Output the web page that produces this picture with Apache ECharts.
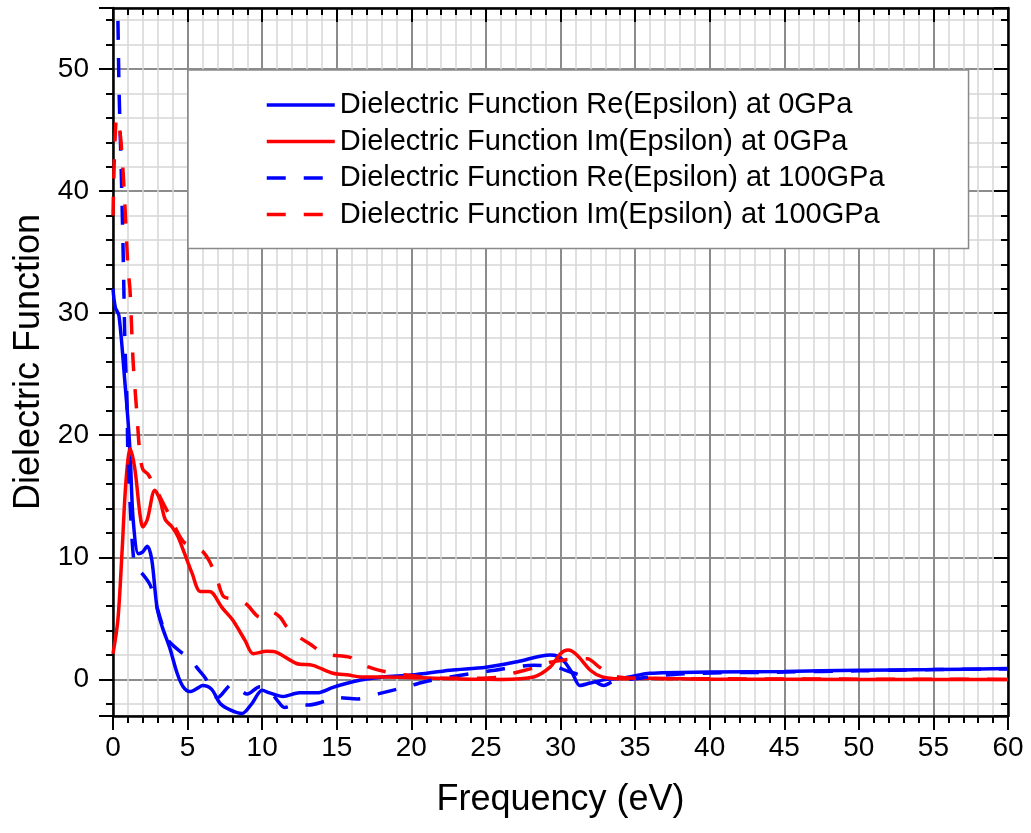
<!DOCTYPE html>
<html>
<head>
<meta charset="utf-8">
<script src="https://cdn.jsdelivr.net/npm/echarts@6/dist/echarts.min.js"></script>
<style>html,body{margin:0;padding:0;background:#fff}#c{width:1031px;height:833px}</style>
</head>
<body>
<div id="c"></div>
<script>
// ---- data ----
const seriesNames = [
  'Dielectric Function Re(Epsilon) at 0GPa',
  'Dielectric Function Im(Epsilon) at 0GPa',
  'Dielectric Function Re(Epsilon) at 100GPa',
  'Dielectric Function Im(Epsilon) at 100GPa'
];
const xTickValues = [0, 5, 10, 15, 20, 25, 30, 35, 40, 45, 50, 55, 60];
const yTickValues = [0, 10, 20, 30, 40, 50];

const re0X = [0, 0.15, 0.4, 0.8, 1.0, 1.15, 1.35, 1.7, 1.95, 2.3, 2.6, 2.95, 3.3, 3.8, 4.3, 4.7, 5.15, 5.7, 6.0, 6.6, 7.2, 7.85, 8.65, 9.3, 10.0, 10.5, 11.4, 12.5, 13.7, 14.75, 15.75, 16.6, 18.1, 20.0, 22.6, 25.0, 27.1, 29.3, 29.8, 30.3, 30.8, 31.3, 32.0, 33.1, 34.2, 36.0, 40, 45, 50, 55, 60];
const re0Y = [32.0, 30.5, 29.8, 24.3, 21.3, 18.5, 13.1, 10.3, 10.4, 10.9, 9.8, 5.9, 4.3, 2.6, 0.5, -0.6, -1.0, -0.7, -0.5, -0.8, -2.0, -2.5, -2.8, -2.0, -0.9, -1.1, -1.4, -1.1, -1.1, -0.65, -0.3, -0.05, 0.2, 0.35, 0.75, 1.0, 1.45, 2.0, 1.9, 1.4, 0.5, -0.5, -0.3, 0.0, 0.1, 0.5, 0.6, 0.65, 0.75, 0.8, 0.9];

const im0X = [0, 0.33, 0.6, 0.8, 1.0, 1.15, 1.47, 1.8, 2.0, 2.3, 2.8, 3.15, 3.5, 3.95, 4.35, 4.8, 5.3, 5.85, 6.4, 6.7, 7.3, 8.0, 8.85, 9.4, 10.3, 11.0, 12.3, 13.4, 14.75, 15.8, 16.6, 19.2, 21.5, 24, 26, 28.2, 29.3, 30.0, 30.5, 31.1, 32.0, 32.8, 34.0, 36, 40, 50, 60];
const im0Y = [2.1, 4.9, 10.3, 15, 18, 18.9, 17.2, 13.6, 12.5, 13.1, 15.5, 14.7, 13.1, 12.5, 11.7, 10.3, 8.7, 7.2, 7.2, 7.05, 5.9, 4.9, 3.2, 2.1, 2.3, 2.2, 1.3, 1.15, 0.5, 0.35, 0.2, 0.18, 0.1, 0.02, 0.0, 0.2, 1.0, 2.1, 2.4, 2.0, 0.75, 0.2, 0.05, 0.1, 0.02, 0.0, 0.0];

const re100X = [0.22, 0.33, 0.4, 0.5, 0.6, 0.7, 0.8, 0.93, 1.0, 1.2, 1.35, 1.5, 2.0, 2.5, 2.95, 3.35, 3.7, 4.6, 5.15, 5.6, 6.2, 7.0, 8.0, 9.0, 9.85, 10.4, 11.0, 11.5, 12.5, 13.1, 14.2, 15.0, 16.4, 17.9, 19.7, 20.9, 22.6, 25.3, 28.2, 29.8, 30.3, 31.3, 32.2, 32.9, 33.5, 35.3, 38, 45, 50, 55, 60];
const re100Y = [60, 54, 48.6, 44, 39.3, 33.8, 27.5, 23, 18.5, 13.1, 10.3, 9.2, 8.6, 7.7, 5.9, 4.3, 3.2, 2.2, 1.8, 1.0, 0.1, -1.5, -0.4, -1.2, -0.6, -0.75, -1.7, -2.3, -2.0, -2.1, -1.8, -1.5, -1.6, -1.15, -0.6, -0.2, 0.2, 0.7, 1.15, 1.0, 0.75, 0.35, -0.1, -0.5, -0.2, 0.1, 0.45, 0.6, 0.7, 0.8, 0.85];

const im100X = [0, 0.1, 0.25, 0.45, 0.6, 0.75, 0.87, 1.0, 1.14, 1.35, 1.6, 1.8, 2.0, 2.35, 3.0, 3.8, 4.7, 5.5, 6.0, 6.5, 7.0, 7.4, 8.0, 8.5, 9.0, 9.85, 10.5, 11.2, 11.65, 12.5, 13.2, 14.2, 15.9, 16.3, 17.4, 18.4, 19.7, 21.9, 24, 26, 26.8, 28.4, 29.3, 30.3, 31.1, 31.8, 32.6, 33.5, 35, 40, 50, 60];
const im100Y = [38, 43, 46, 45, 43, 40, 37, 33.8, 31.9, 26, 21.8, 18.5, 17.2, 16.8, 15.3, 13.4, 11.3, 10.8, 10.5, 9.6, 8.1, 6.8, 6.6, 6.5, 6.1, 5.1, 5.6, 5.1, 4.3, 3.45, 2.9, 2.1, 1.8, 1.4, 0.9, 0.6, 0.35, 0.1, 0.1, 0.2, 0.5, 1.0, 1.4, 1.6, 1.7, 1.7, 1.0, 0.3, 0.1, 0.05, 0.02, 0.0];

// ---- build chart ----
const pairs = (xs, ys) => xs.map((x, i) => [x, ys[i]]);
const FONT = 'Liberation Sans, Arial, sans-serif';
const BLUE = '#0000ff', RED = '#ff0000';
const DASH = [19, 18];
const LW = 3.5;

const chart = echarts.init(document.getElementById('c'), null, { renderer: 'canvas' });

const baseTick = { show: true, length: 14, lineStyle: { color: '#000', width: 2 } };
const baseMinor = { show: true, splitNumber: 5, length: 7, lineStyle: { color: '#000', width: 2 } };

chart.setOption({
  animation: false,
  backgroundColor: '#fff',
  grid: { left: 113, top: 8, right: 23, bottom: 117, containLabel: false },
  legend: {
    data: seriesNames,
    orient: 'vertical',
    left: 188, top: 70,
    padding: [20, 84, 19, 77],
    itemWidth: 68, itemHeight: 2, itemGap: 6.5,
    backgroundColor: '#fff',
    borderColor: '#8a8a8a', borderWidth: 1.5,
    selectedMode: false,
    itemStyle: { opacity: 0 },
    lineStyle: { width: 3.5 },
    textStyle: { fontFamily: FONT, fontSize: 29, color: '#000', lineHeight: 30 }
  },
  xAxis: [{
    type: 'value', min: 0, max: 60, interval: 5,
    name: 'Frequency (eV)', nameLocation: 'middle', nameGap: 66,
    nameTextStyle: { fontFamily: FONT, fontSize: 36, color: '#000' },
    axisLine: { show: true, onZero: false, lineStyle: { color: '#000', width: 2.5 } },
    axisTick: baseTick,
    minorTick: baseMinor,
    axisLabel: { fontFamily: FONT, fontSize: 28, color: '#000', margin: 18,
      formatter: v => xTickValues.includes(v) ? String(v) : '' },
    splitLine: { show: true, lineStyle: { color: '#8c8c8c', width: 2 } },
    minorSplitLine: { show: true, lineStyle: { color: '#d6d6d6', width: 1.5 } }
  }, {
    type: 'value', min: 0, max: 60, interval: 5, position: 'top',
    axisLine: { show: true, onZero: false, lineStyle: { color: '#000', width: 2.5 } },
    axisTick: Object.assign({}, baseTick, { inside: true }),
    minorTick: Object.assign({}, baseMinor, { inside: true }),
    axisLabel: { show: false },
    splitLine: { show: false }
  }],
  yAxis: [{
    type: 'value', min: -3, max: 55, minInterval: 10, maxInterval: 10,
    name: 'Dielectric Function', nameLocation: 'middle', nameGap: 62,
    nameTextStyle: { fontFamily: FONT, fontSize: 36, color: '#000' },
    axisLine: { show: true, onZero: false, lineStyle: { color: '#000', width: 2.5 } },
    axisTick: baseTick,
    minorTick: baseMinor,
    axisLabel: { fontFamily: FONT, fontSize: 28, color: '#000', margin: 24,
      showMinLabel: false, showMaxLabel: false,
      formatter: v => yTickValues.includes(v) ? String(v) : '' },
    splitLine: { show: true, lineStyle: { color: '#8c8c8c', width: 2 } },
    minorSplitLine: { show: true, lineStyle: { color: '#d6d6d6', width: 1.5 } }
  }, {
    type: 'value', min: -3, max: 55, minInterval: 10, maxInterval: 10, position: 'right',
    axisLine: { show: true, onZero: false, lineStyle: { color: '#000', width: 2.5 } },
    axisTick: Object.assign({}, baseTick, { inside: true }),
    minorTick: Object.assign({}, baseMinor, { inside: true }),
    axisLabel: { show: false },
    splitLine: { show: false }
  }],
  series: [
    { name: seriesNames[0], type: 'line', data: pairs(re0X, re0Y), smooth: 0.3, symbol: 'none', showSymbol: false,
      lineStyle: { color: BLUE, width: LW, type: 'solid' }, itemStyle: { color: BLUE } },
    { name: seriesNames[1], type: 'line', data: pairs(im0X, im0Y), smooth: 0.3, symbol: 'none', showSymbol: false,
      lineStyle: { color: RED, width: LW, type: 'solid' }, itemStyle: { color: RED } },
    { name: seriesNames[2], type: 'line', data: pairs(re100X, re100Y), smooth: 0.3, symbol: 'none', showSymbol: false,
      lineStyle: { color: BLUE, width: LW, type: DASH }, itemStyle: { color: BLUE } },
    { name: seriesNames[3], type: 'line', data: pairs(im100X, im100Y), smooth: 0.3, symbol: 'none', showSymbol: false,
      lineStyle: { color: RED, width: LW, type: DASH }, itemStyle: { color: RED } }
  ]
});
</script>
</body>
</html>
